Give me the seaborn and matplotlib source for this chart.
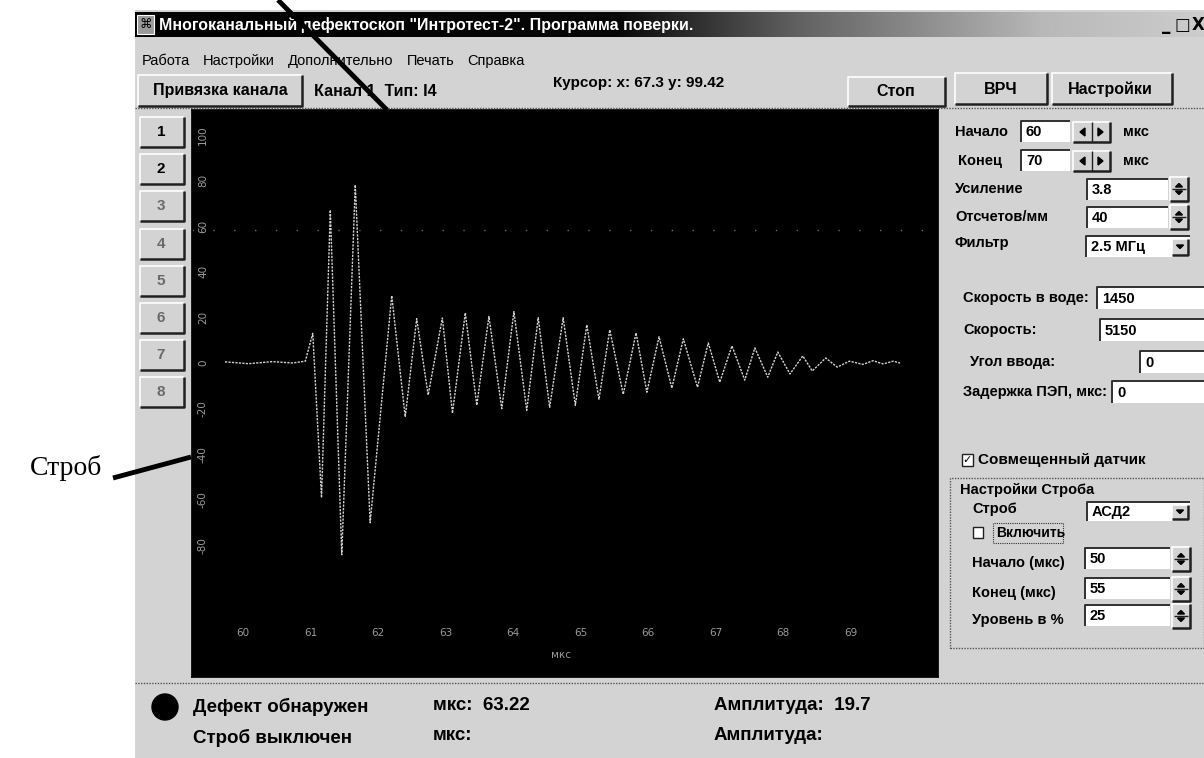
import numpy as np
import matplotlib
matplotlib.use("Agg")
import matplotlib.pyplot as plt
from matplotlib.patches import Rectangle, Ellipse, Polygon
from matplotlib.lines import Line2D
import seaborn as sns

# ---- signal: A-scan trace, time in microseconds, amplitude in % ----
trace_us = [60.00, 60.35, 60.70, 61.00, 61.19, 61.30, 61.43, 61.56, 61.73, 61.93,
            62.15, 62.47, 62.67, 62.84, 63.01, 63.22, 63.37, 63.56, 63.73, 63.91,
            64.10, 64.28, 64.47, 64.64, 64.81, 65.01, 65.19, 65.36, 65.54, 65.70,
            65.90, 66.09, 66.25, 66.43, 66.62, 66.79, 67.00, 67.16, 67.33, 67.51,
            67.70, 67.85, 68.04, 68.19, 68.37, 68.56, 68.70, 68.90, 69.07, 69.25,
            69.45, 69.60, 69.75, 69.90, 70.00]
trace_amp = [0.5, -0.3, 0.6, 0.0, 0.8, 13.0, -59.0, 67.0, -84.0, 78.0,
             -70.0, 29.5, -23.6, 19.4, -14.0, 19.7, -22.0, 22.0, -18.5, 20.4,
             -20.0, 22.5, -20.7, 19.8, -19.4, 19.8, -18.5, 16.7, -15.9, 14.5,
             -13.7, 13.2, -12.8, 11.5, -11.0, 10.6, -10.6, 8.8, -8.4, 7.5,
             -7.5, 6.6, -6.2, 4.8, -4.8, 3.1, -3.5, 2.2, -1.8, 0.8,
             -0.6, 1.0, -0.4, 0.8, 0.0]
level_line = 58.3

x_ticks = [60, 61, 62, 63, 64, 65, 66, 67, 68, 69]
y_ticks = [100, 80, 60, 40, 20, 0, -20, -40, -60, -80]
x_unit = "мкс"

defect_us = 63.22
defect_amp = 19.7
cursor_x, cursor_y = 67.3, 99.42

channels = ["1", "2", "3", "4", "5", "6", "7", "8"]
menu_items = ["Работа", "Настройки", "Дополнительно", "Печать", "Справка"]

sns.set_theme(style="white")
UI = ["Liberation Sans", "DejaVu Sans"]
plt.rcParams["font.family"] = UI

W, H = 1204, 758
fig = plt.figure(figsize=(W / 100, H / 100), dpi=100)
fig.patch.set_facecolor("white")

PANEL = "#d3d3d3"
DARK = "#2a2a2a"


def fx(x):
    return x / W


def fy(y):
    return 1 - y / H


def rect(x0, y0, x1, y1, fc, ec="none", lw=1.0, z=1, ls="-"):
    fig.patches.append(Rectangle((fx(x0), fy(y1)), fx(x1) - fx(x0), fy(y0) - fy(y1),
                                 transform=fig.transFigure, facecolor=fc, edgecolor=ec,
                                 lw=lw, zorder=z, linestyle=ls))


def line(xs, ys, color=DARK, lw=1.0, z=3, ls="-"):
    fig.lines.append(Line2D([fx(v) for v in xs], [fy(v) for v in ys],
                            transform=fig.transFigure, color=color, lw=lw,
                            zorder=z, linestyle=ls, solid_capstyle="butt"))


def txt(x, y, s, size=10.5, weight="bold", color="black", ha="left", va="center",
        family=None, z=5, **kw):
    return fig.text(fx(x), fy(y), s, fontsize=size, fontweight=weight, color=color,
                    ha=ha, va=va, family=family or UI, zorder=z, **kw)


def raised(x0, y0, x1, y1, z=2):
    rect(x0, y0, x1, y1, PANEL, z=z)
    line([x0, x0, x1], [y1, y0, y0], color="white", lw=1.2, z=z + 0.1)
    line([x0, x1, x1], [y1, y1, y0], color="#202020", lw=1.8, z=z + 0.1)


def sunken(x0, y0, x1, y1, z=2):
    rect(x0, y0, x1, y1, "white", z=z)
    line([x0, x0, x1], [y1, y0, y0], color="#303030", lw=1.4, z=z + 0.1)


def tri(xm, ym, up, size=3.5):
    d = -1 if up else 1
    fig.patches.append(Polygon([(fx(xm - size), fy(ym)), (fx(xm + size), fy(ym)),
                                (fx(xm), fy(ym + d * size))], closed=True,
                               transform=fig.transFigure, color="black", zorder=4))


def spinner(x0, y0, x1, y1):
    raised(x0, y0, x1, y1)
    xm = (x0 + x1) / 2
    ym = (y0 + y1) / 2
    tri(xm, ym - 2, True)
    tri(xm, ym + 2, False)
    line([x0 + 2, x1 - 2], [ym, ym], color="#202020", lw=1.0, z=4)


# window body
rect(135, 10, 1204, 758, PANEL, z=-1)

# title bar with a dark-to-grey gradient
tax = fig.add_axes([fx(135), fy(37), fx(1204) - fx(135), (37 - 12) / H])
tax.set_zorder(1)
grad_pos = np.linspace(0, 1, 400)
grad = np.interp(grad_pos, [0.0, 0.45, 0.62, 0.85, 1.0], [0.0, 0.03, 0.38, 0.72, 0.80])
tax.imshow(grad[None, :], aspect="auto", cmap="gray", vmin=0, vmax=1,
           extent=[0, 1, 0, 1])
tax.set_axis_off()
rect(137, 15, 154, 34, "#9a9a9a", ec="white", lw=0.8, z=3)
txt(145.5, 24.5, "⌘", size=9, color="black", ha="center", weight="normal",
    family=["DejaVu Sans"])
txt(159, 25, 'Многоканальный дефектоскоп "Интротест-2". Программа поверки.',
    size=11.5, color="white")
for xb, sym in [(1166, "_"), (1182, "□"), (1198, "X")]:
    txt(xb, 25, sym, size=12, color="black", ha="center", family=["DejaVu Sans"])

# menu bar, items laid out one after another
renderer = fig.canvas.get_renderer()
mx = 142
for item in menu_items:
    t = txt(mx, 61, item, size=10.5, weight="normal")
    bb = t.get_window_extent(renderer=renderer)
    mx += bb.width + 13

# toolbar row
raised(138, 75, 302, 106)
txt(220, 91, "Привязка канала", size=11.5, ha="center")
txt(314, 91, "Канал 1  Тип: I4", size=11.5)
txt(639, 83, f"Курсор: x: {cursor_x:g} y: {cursor_y:g}", size=11, ha="center")
raised(848, 77, 945, 106)
txt(896, 92, "Стоп", size=11.5, ha="center")
raised(955, 73, 1047, 104)
txt(1001, 89, "ВРЧ", size=11.5, ha="center")
raised(1052, 73, 1172, 104)
txt(1110, 89, "Настройки", size=11.5, ha="center")
line([135, 1204], [108, 108], color="#555555", lw=1.0, ls=(0, (1, 1)), z=2)

# channel buttons
for i, ch in enumerate(channels):
    yc = 132 + i * 37.2
    raised(140, yc - 15, 184, yc + 15)
    txt(161, yc, ch, size=11, ha="center",
        color="black" if i < 2 else "#6a6a6a")

# ---- oscillogram ----
ax_l, ax_r, ax_t, ax_b = 192, 938, 110, 677
ax = fig.add_axes([fx(ax_l), fy(ax_b), fx(ax_r) - fx(ax_l), fy(ax_t) - fy(ax_b)])
ax.set_zorder(1)
ax.set_facecolor("black")
sns.lineplot(x=trace_us, y=trace_amp, ax=ax, sort=False, estimator=None,
             color="#d4d4d4", lw=1.0, linestyle=(0, (1.6, 0.9)))
ax.axhline(level_line, color="#6a6a6a", lw=1.0, linestyle=(0, (1, 14)))
px_per_us = 67.5
x0_us = 60 - (225 - ax_l) / px_per_us
ax.set_xlim(x0_us, x0_us + (ax_r - ax_l) / px_per_us)
px_per_unit = 2.283
ax.set_ylim(-(ax_b - 363) / px_per_unit, (363 - ax_t) / px_per_unit)
ax.set_xticks([])
ax.set_yticks([])
for s in ax.spines.values():
    s.set_color("black")
ax.set_xlabel("")
ax.set_ylabel("")

lbl_col = "#9a9a9a"
xtr = matplotlib.transforms.blended_transform_factory(ax.transData, ax.transAxes)
shift = matplotlib.transforms.ScaledTranslation(18 / 100, 0, fig.dpi_scale_trans)
for v in x_ticks:
    ax.text(v, (ax_b - 633) / (ax_b - ax_t), str(v), transform=xtr + shift,
            color=lbl_col, fontsize=7.5, ha="center", va="center",
            family=["DejaVu Sans"])
ax.text((561 - ax_l) / (ax_r - ax_l), (ax_b - 655) / (ax_b - ax_t), x_unit,
        transform=ax.transAxes, color=lbl_col, fontsize=7.5, ha="center",
        va="center", family=["DejaVu Sans"])
ytr = matplotlib.transforms.blended_transform_factory(ax.transAxes, ax.transData)
for v in y_ticks:
    ax.text((203 - ax_l) / (ax_r - ax_l), v, str(v), transform=ytr, color=lbl_col,
            fontsize=7.5, rotation=90, ha="center", va="center",
            family=["DejaVu Sans"])

# ---- right settings panel ----
for lab, lx, yl, val in [("Начало", 955, 132, "60"), ("Конец", 958, 161, "70")]:
    txt(lx, yl, lab)
    sunken(1021, yl - 11, 1070, yl + 10)
    txt(1026, yl, val)
    raised(1073, yl - 10, 1110, yl + 10)
    line([1091.5, 1091.5], [yl - 10, yl + 10], color="#202020", lw=1.0, z=4)
    fig.patches.append(Polygon([(fx(1080), fy(yl)), (fx(1085), fy(yl - 4)),
                                (fx(1085), fy(yl + 4))], closed=True,
                               transform=fig.transFigure, color="black", zorder=4))
    fig.patches.append(Polygon([(fx(1103), fy(yl)), (fx(1098), fy(yl - 4)),
                                (fx(1098), fy(yl + 4))], closed=True,
                               transform=fig.transFigure, color="black", zorder=4))
    txt(1123, yl, "мкс")

for lab, yl, val in [("Усиление", 189, "3.8"), ("Отсчетов/мм", 217, "40")]:
    txt(955, yl, lab)
    sunken(1087, yl - 10, 1168, yl + 11)
    txt(1092, yl + 1, val)
    spinner(1170, yl - 12, 1188, yl + 12)

txt(955, 243, "Фильтр")
sunken(1086, 236, 1190, 257)
txt(1091, 247, "2.5 МГц")
raised(1172, 239, 1188, 255)
tri(1180, 245, False, size=3.5)

for lab, lx, yl, bx, val in [("Скорость в воде:", 963, 298, 1097, "1450"),
                             ("Скорость:", 963, 330, 1100, "5150"),
                             ("Угол ввода:", 970, 362, 1140, "0"),
                             ("Задержка ПЭП, мкс:", 963, 392, 1112, "0")]:
    txt(lx, yl, lab)
    sunken(bx, yl - 11, 1204, yl + 11)
    txt(bx + 5, yl + 1, val)

# combined probe checkbox
rect(962, 454, 973, 466, "white", ec="#202020", lw=1.0, z=3)
txt(967.5, 460, "✓", size=8, ha="center", family=["DejaVu Sans"])
txt(978, 460, "Совмещенный датчик", size=11)

# gate settings group
rect(950, 478, 1204, 648, "none", ec="#555555", lw=1.0, ls=(0, (1, 1)), z=2)
rect(957, 481, 1071, 497, PANEL, z=3)
txt(960, 490, "Настройки Строба", size=10.5)
txt(972, 509, "Строб")
sunken(1087, 502, 1190, 521)
txt(1092, 512, "АСД2")
raised(1172, 505, 1188, 519)
tri(1180, 510, False, size=3.5)
rect(973, 527, 983, 538, "white", ec="#202020", lw=1.0, z=3)
rect(993, 523, 1063, 543, "none", ec="#303030", lw=0.8, ls=(0, (1, 1)), z=3)
txt(996, 533, "Включить", size=10)
for lab, yl, val in [("Начало (мкс)", 563, "50"), ("Конец (мкс)", 593, "55"),
                     ("Уровень в %", 620, "25")]:
    txt(972, yl, lab)
    sunken(1085, yl - 15, 1170, yl + 6)
    txt(1090, yl - 4, val)
    spinner(1172, yl - 16, 1190, yl + 8)

# ---- status rows ----
line([135, 1204], [683, 683], color="#555555", lw=1.0, ls=(0, (1, 1)), z=2)
fig.patches.append(Ellipse((fx(165), fy(707)), 26 / W, 26 / H,
                           transform=fig.transFigure, color="black", zorder=4))
txt(193, 707, "Дефект обнаружен", size=13.5)
txt(433, 705, f"мкс:  {defect_us:.2f}", size=13.5)
txt(714, 705, f"Амплитуда:  {defect_amp:.1f}", size=13.5)
txt(193, 738, "Строб выключен", size=13.5)
txt(433, 736, "мкс:", size=13.5)
txt(714, 736, "Амплитуда:", size=13.5)

# ---- callouts ----
line([278, 387], [0, 110], color="black", lw=3.5, z=6)
line([113, 191], [478, 457], color="black", lw=3.5, z=6)
txt(30, 468, "Строб", size=20, weight="normal",
    family=["Liberation Serif", "DejaVu Serif"])

fig.savefig("out.png", dpi=100)
